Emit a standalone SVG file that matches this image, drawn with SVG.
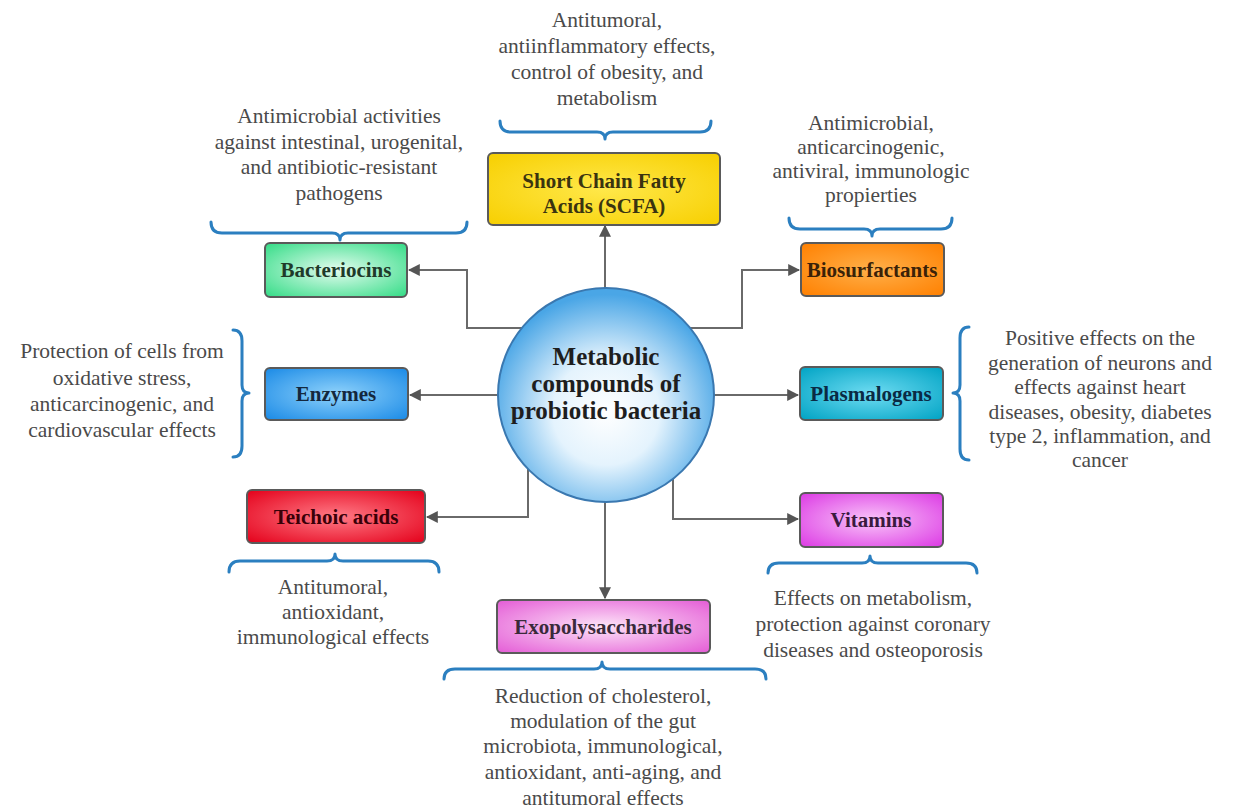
<svg xmlns="http://www.w3.org/2000/svg" width="1233" height="809" viewBox="0 0 1233 809">
<defs>
<style>
.desc{font-family:"Liberation Serif","DejaVu Serif",serif;font-size:21.5px;fill:#4a4a4a;text-anchor:middle}
.lbl{font-family:"Liberation Serif","DejaVu Serif",serif;font-size:21px;font-weight:bold;text-anchor:middle}
.box{stroke:#5a5a5a;stroke-width:2}
.brace{fill:none;stroke:#2b7fc0;stroke-width:3;stroke-linecap:round;stroke-linejoin:round}
.conn{fill:none;stroke:#6a6a6a;stroke-width:2}
</style>
<marker id="arr" viewBox="0 0 10 10" refX="9" refY="5" markerWidth="6" markerHeight="6" orient="auto-start-reverse" markerUnits="strokeWidth">
<path d="M0,0 L10,5 L0,10 z" fill="#555"/>
</marker>
<radialGradient id="gCircle" cx="50%" cy="58%" r="55%">
<stop offset="0" stop-color="#ffffff"/><stop offset="0.45" stop-color="#e4f3fd"/><stop offset="1" stop-color="#4aa6e6"/>
</radialGradient>
<radialGradient id="gYellow" cx="50%" cy="50%" r="70%"><stop offset="0" stop-color="#ffe84a"/><stop offset="1" stop-color="#f7cf00"/></radialGradient>
<radialGradient id="gGreen" cx="50%" cy="50%" r="70%"><stop offset="0" stop-color="#e4fcef"/><stop offset="1" stop-color="#33dc86"/></radialGradient>
<radialGradient id="gOrange" cx="50%" cy="50%" r="70%"><stop offset="0" stop-color="#ffb04a"/><stop offset="1" stop-color="#ff8000"/></radialGradient>
<radialGradient id="gBlue" cx="50%" cy="50%" r="70%"><stop offset="0" stop-color="#8fd2fb"/><stop offset="1" stop-color="#1a8ae6"/></radialGradient>
<radialGradient id="gTeal" cx="50%" cy="50%" r="70%"><stop offset="0" stop-color="#6fdcf2"/><stop offset="1" stop-color="#00a3c4"/></radialGradient>
<radialGradient id="gRed" cx="50%" cy="50%" r="70%"><stop offset="0" stop-color="#ff7a86"/><stop offset="1" stop-color="#e4001a"/></radialGradient>
<radialGradient id="gViolet" cx="50%" cy="50%" r="70%"><stop offset="0" stop-color="#f9c4f9"/><stop offset="1" stop-color="#dc3ae4"/></radialGradient>
<radialGradient id="gPink" cx="50%" cy="50%" r="70%"><stop offset="0" stop-color="#fde4f8"/><stop offset="1" stop-color="#e45cd6"/></radialGradient>
</defs>
<rect width="1233" height="809" fill="#ffffff"/>

<g id="connectors">
<line class="conn" x1="605" y1="300" x2="605" y2="226" marker-end="url(#arr)"/>
<polyline class="conn" points="530,328 467,328 467,270 409,270" marker-end="url(#arr)"/>
<polyline class="conn" points="682,328 742,328 742,270 799,270" marker-end="url(#arr)"/>
<line class="conn" x1="510" y1="395" x2="410" y2="395" marker-end="url(#arr)"/>
<line class="conn" x1="700" y1="395" x2="798" y2="395" marker-end="url(#arr)"/>
<polyline class="conn" points="528,460 528,517 427,517" marker-end="url(#arr)"/>
<polyline class="conn" points="673,470 673,519 798,519" marker-end="url(#arr)"/>
<line class="conn" x1="605" y1="490" x2="605" y2="598" marker-end="url(#arr)"/>
</g>

<g id="center">
<ellipse cx="606" cy="395" rx="108" ry="107" fill="url(#gCircle)" stroke="#3a78b0" stroke-width="2"/>
<text class="lbl" x="606" y="365" style="font-size:25px" fill="#1e1e1e">Metabolic</text>
<text class="lbl" x="606" y="392" style="font-size:25px" fill="#1e1e1e">compounds of</text>
<text class="lbl" x="606" y="419" style="font-size:25px" fill="#1e1e1e">probiotic bacteria</text>
</g>

<g id="scfa">
<rect class="box" x="488" y="153" width="232" height="72" rx="5" fill="url(#gYellow)" stroke="#857522"/>
<text class="lbl" x="604" y="188" fill="#3a3410">Short Chain Fatty</text>
<text class="lbl" x="604" y="213" fill="#3a3410">Acids (SCFA)</text>
<path class="brace" d="M500,121 Q500,132 511,132 L597,132 Q605,132 605,139 Q605,132 613,132 L700,132 Q711,132 711,121"/>
<text class="desc" x="607" y="27">Antitumoral,</text>
<text class="desc" x="607" y="53">antiinflammatory effects,</text>
<text class="desc" x="607" y="79">control of obesity, and</text>
<text class="desc" x="607" y="105">metabolism</text>
</g>

<g id="bacteriocins">
<rect class="box" x="265" y="243" width="142" height="54" rx="5" fill="url(#gGreen)"/>
<text class="lbl" x="336" y="277" fill="#1f3a2a">Bacteriocins</text>
<path class="brace" d="M211,222 Q211,233 222,233 L332,233 Q340,233 340,240 Q340,233 348,233 L456,233 Q467,233 467,222"/>
<text class="desc" x="339" y="123">Antimicrobial activities</text>
<text class="desc" x="339" y="149">against intestinal, urogenital,</text>
<text class="desc" x="339" y="174">and antibiotic-resistant</text>
<text class="desc" x="339" y="200">pathogens</text>
</g>

<g id="biosurfactants">
<rect class="box" x="801" y="243" width="143" height="53" rx="5" fill="url(#gOrange)"/>
<text class="lbl" x="872" y="277" fill="#3a2208">Biosurfactants</text>
<path class="brace" d="M789,218 Q789,229 800,229 L864,229 Q872,229 872,236 Q872,229 880,229 L941,229 Q952,229 952,218"/>
<text class="desc" x="871" y="130">Antimicrobial,</text>
<text class="desc" x="871" y="154">anticarcinogenic,</text>
<text class="desc" x="871" y="178">antiviral, immunologic</text>
<text class="desc" x="871" y="202">propierties</text>
</g>

<g id="enzymes">
<rect class="box" x="265" y="368" width="143" height="52" rx="5" fill="url(#gBlue)"/>
<text class="lbl" x="336" y="401" fill="#14283e">Enzymes</text>
<path class="brace" d="M233,330 Q242,330 242,341 L242,385 Q242,393 249,393 Q242,393 242,401 L242,446 Q242,457 233,457"/>
<text class="desc" x="122" y="358">Protection of cells from</text>
<text class="desc" x="122" y="385">oxidative stress,</text>
<text class="desc" x="122" y="411">anticarcinogenic, and</text>
<text class="desc" x="122" y="437">cardiovascular effects</text>
</g>

<g id="plasmalogens">
<rect class="box" x="800" y="367" width="143" height="53" rx="5" fill="url(#gTeal)"/>
<text class="lbl" x="871" y="401" fill="#0a2a44">Plasmalogens</text>
<path class="brace" d="M969,327 Q960,327 960,338 L960,385 Q960,393 953,393 Q960,393 960,401 L960,449 Q960,460 969,460"/>
<text class="desc" x="1100" y="345">Positive effects on the</text>
<text class="desc" x="1100" y="370">generation of neurons and</text>
<text class="desc" x="1100" y="394">effects against heart</text>
<text class="desc" x="1100" y="419">diseases, obesity, diabetes</text>
<text class="desc" x="1100" y="443">type 2, inflammation, and</text>
<text class="desc" x="1100" y="467">cancer</text>
</g>

<g id="teichoic">
<rect class="box" x="247" y="490" width="178" height="53" rx="5" fill="url(#gRed)"/>
<text class="lbl" x="336" y="524" fill="#3a0008">Teichoic acids</text>
<path class="brace" d="M229,572 Q229,561 240,561 L327,561 Q335,561 335,554 Q335,561 343,561 L428,561 Q439,561 439,572"/>
<text class="desc" x="333" y="594">Antitumoral,</text>
<text class="desc" x="333" y="619">antioxidant,</text>
<text class="desc" x="333" y="644">immunological effects</text>
</g>

<g id="vitamins">
<rect class="box" x="800" y="493" width="143" height="54" rx="5" fill="url(#gViolet)"/>
<text class="lbl" x="871" y="527" fill="#3a1a3e">Vitamins</text>
<path class="brace" d="M768,573 Q768,563 779,563 L862,563 Q870,563 870,556 Q870,563 878,563 L966,563 Q977,563 977,573"/>
<text class="desc" x="873" y="605">Effects on metabolism,</text>
<text class="desc" x="873" y="631">protection against coronary</text>
<text class="desc" x="873" y="657">diseases and osteoporosis</text>
</g>

<g id="exopolysaccharides">
<rect class="box" x="497" y="600" width="213" height="53" rx="5" fill="url(#gPink)"/>
<text class="lbl" x="603" y="634" fill="#3a2a3a">Exopolysaccharides</text>
<path class="brace" d="M444,679 Q444,669 455,669 L594,669 Q602,669 602,662 Q602,669 610,669 L755,669 Q766,669 766,679"/>
<text class="desc" x="603" y="703">Reduction of cholesterol,</text>
<text class="desc" x="603" y="728">modulation of the gut</text>
<text class="desc" x="603" y="753">microbiota, immunological,</text>
<text class="desc" x="603" y="779">antioxidant, anti-aging, and</text>
<text class="desc" x="603" y="805">antitumoral effects</text>
</g>
</svg>
